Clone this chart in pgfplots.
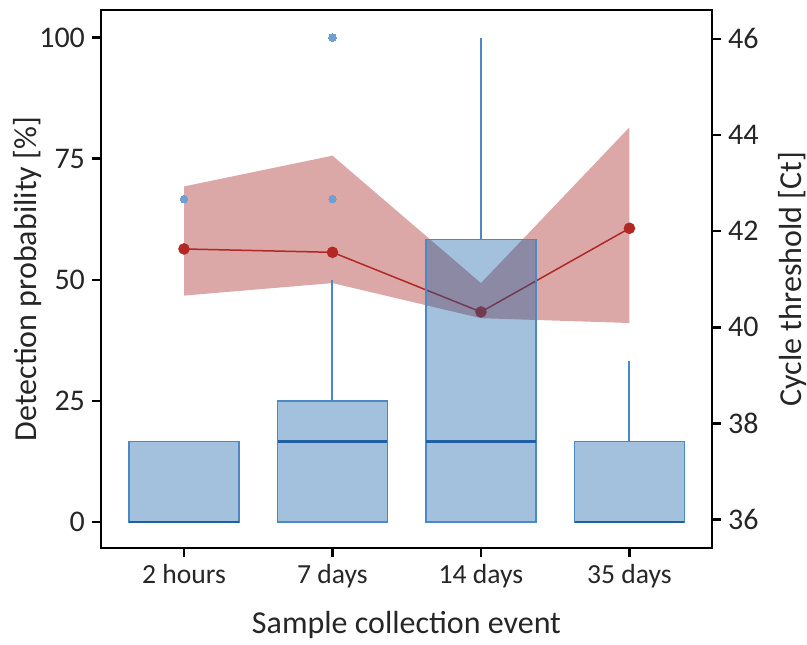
\documentclass[border=0pt]{standalone}
\usepackage{fontspec}
\setmainfont{Carlito}
\usepackage{pgfplots}
\pgfplotsset{compat=1.18}
\usepgfplotslibrary{statistics}

\definecolor{boxfill}{RGB}{13,89,163}
\definecolor{boxedge}{RGB}{74,136,200}
\definecolor{boxmed}{RGB}{31,95,166}
\definecolor{outl}{RGB}{111,159,211}
\definecolor{ctband}{RGB}{219,168,167}
\definecolor{ctline}{RGB}{178,40,36}
\definecolor{txt}{RGB}{38,38,38}

\pgfplotsset{
  common/.style={
    scale only axis, width=305.5pt, height=269pt,
    xmin=-0.559, xmax=3.556,
    tick align=outside,
    major tick length=4.5pt,
    /pgf/number format/assume math mode=true,
    tick label style={text=txt},
  },
  outliers/.style={outl, mark=*, mark size=1.9pt,
    every mark/.append style={fill=outl, draw=outl, line width=0pt}},
}

\begin{document}
\begin{tikzpicture}
% Cycle threshold: mean line with its range band (right axis)
\begin{axis}[common,
  ymin=35.41, ymax=46.6,
  axis x line=none,
  axis y line*=right,
  ytick={36,38,40,42,44,46},
  y axis line style={line width=1.25pt},
  ytick style={black, line width=1.25pt},
  yticklabel style={font=\fontsize{15}{18}\selectfont},
  ylabel={Cycle threshold [Ct]},
  every axis y label/.style={at={(axis description cs:1.131,0.5)}, anchor=center, rotate=90,
    font=\fontsize{16}{19}\selectfont, text=txt},
]
\addplot[fill=ctband, draw=none] coordinates {
  (0,42.93) (1,43.57) (2,40.92) (3,44.16)
  (3,40.09) (2,40.19) (1,40.92) (0,40.66)} -- cycle;
\addplot[ctline, line width=0.75pt, mark=*, mark size=2.5pt,
  mark options={fill=ctline, draw=none}] coordinates {
  (0,41.63) (1,41.56) (2,40.32) (3,42.06)};
\end{axis}

% Detection probability: box plots (left axis)
\begin{axis}[common, name=bx,
  ymin=-5.37, ymax=105.7,
  ytick={0,25,50,75,100},
  xtick={0,1,2,3},
  xticklabels={2 hours, 7 days, 14 days, 35 days},
  ytick pos=left, xtick pos=bottom,
  axis line style={line width=1.25pt},
  tick style={black, line width=1.25pt},
  yticklabel style={font=\fontsize{15}{18}\selectfont},
  xticklabel style={font=\fontsize{13.8}{16}\selectfont},
  xlabel={Sample collection event},
  ylabel={Detection probability [\%]},
  every axis y label/.style={at={(axis description cs:-0.1195,0.5)}, anchor=center, rotate=90,
    font=\fontsize{16}{19}\selectfont, text=txt},
  every axis x label/.style={at={(axis description cs:0.5,-0.158)}, anchor=base,
    font=\fontsize{16}{19}\selectfont, text=txt},
  boxplot/draw direction=y,
  boxplot/box extend=0.74,
  boxplot/whisker extend=0,
  boxplot/every box/.style={draw=boxedge, line width=0.75pt, fill=boxfill, fill opacity=0.38},
  boxplot/every whisker/.style={draw=boxedge, line width=1pt},
  boxplot/every median/.style={draw=boxmed, line width=1.3pt},
]
\addplot[outliers,
  boxplot prepared={draw position=0, lower whisker=0, lower quartile=0,
    median=0, upper quartile=16.67, upper whisker=16.67}]
  coordinates {(0,66.67)};
\addplot[outliers,
  boxplot prepared={draw position=1, lower whisker=0, lower quartile=0,
    median=16.67, upper quartile=25, upper whisker=50}]
  coordinates {(1,66.67) (1,100)};
\addplot[outliers,
  boxplot prepared={draw position=2, lower whisker=0, lower quartile=0,
    median=16.67, upper quartile=58.33, upper whisker=100}]
  coordinates {};
\addplot[outliers,
  boxplot prepared={draw position=3, lower whisker=0, lower quartile=0,
    median=0, upper quartile=16.67, upper whisker=33.33}]
  coordinates {};
\end{axis}

\pgfresetboundingbox
\path[use as bounding box] ([xshift=-50.5pt,yshift=-48pt]bx.south west)
  rectangle ([xshift=47.5pt,yshift=5pt]bx.north east);
\end{tikzpicture}
\end{document}
